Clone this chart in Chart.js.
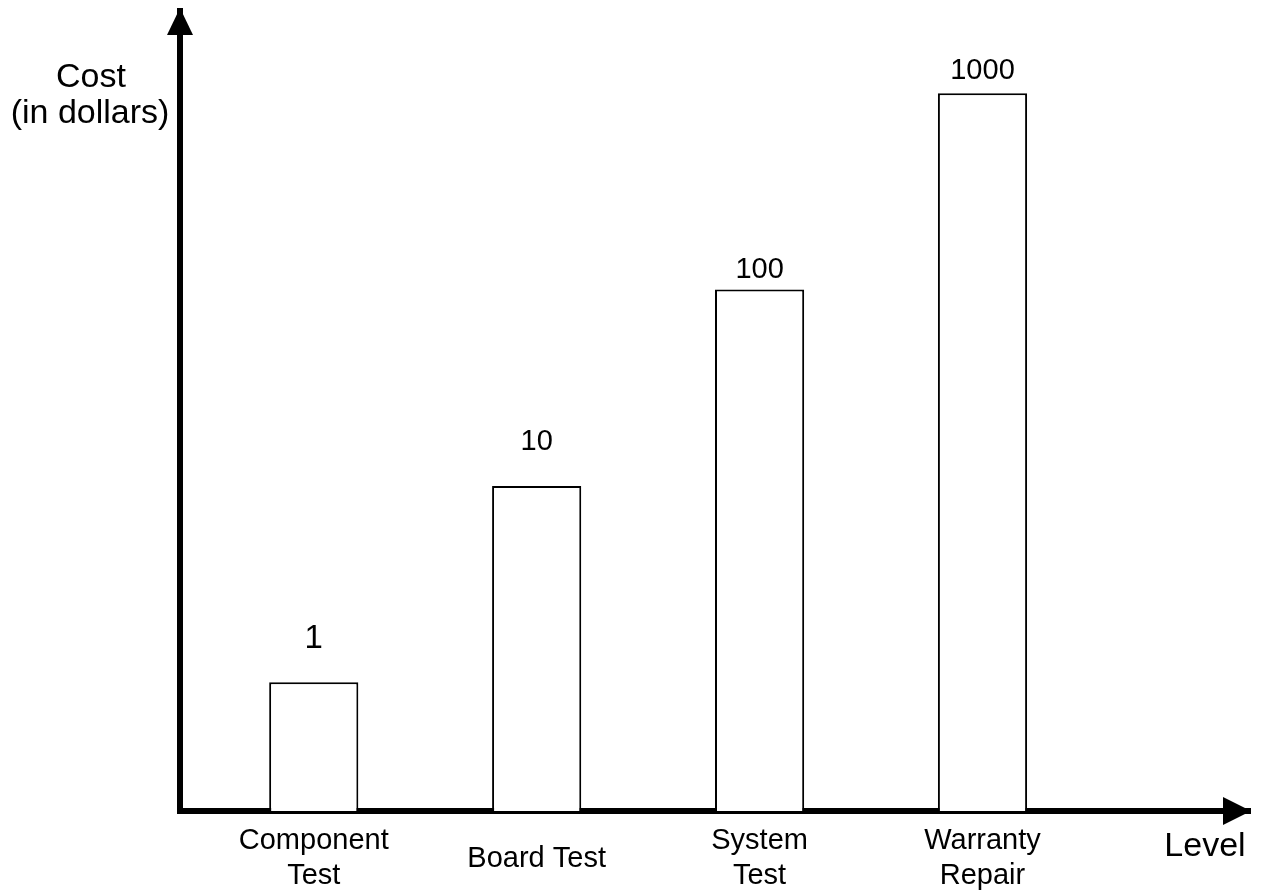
<!DOCTYPE html>
<html>
<head>
<meta charset="utf-8">
<script src="https://cdn.jsdelivr.net/npm/chart.js@4/dist/chart.umd.min.js"></script>
<style>
  html, body { margin: 0; padding: 0; background: #ffffff; }
  #wrap { position: relative; width: 1265px; height: 895px; }
  canvas { display: block; }
</style>
</head>
<body>
<div id="wrap"><canvas id="chart" width="1265" height="895"></canvas></div>
<script>
// ---- data ----
const categories = ['Component Test', 'Board Test', 'System Test', 'Warranty Repair'];
const tickLabels = [['Component', 'Test'], ['Board Test'], ['System', 'Test'], ['Warranty', 'Repair']];
const costValues = [1, 10, 100, 1000];
const yAxisTitle = ['Cost', '(in dollars)'];
const xAxisTitle = 'Level';

// ---- styling constants ----
const FONT = '"Liberation Sans", Arial, Helvetica, sans-serif';
const valueLabelSizes = [33, 29, 29, 29];
const valueLabelGaps = [34, 36, 12, 14];

Chart.defaults.font.family = FONT;
Chart.defaults.color = '#000';

const points = costValues.map((v, i) => ({ x: i + 1, y: v }));

const decorPlugin = {
  id: 'decor',
  afterDatasetsDraw(chart) {
    const ctx = chart.ctx;
    const meta = chart.getDatasetMeta(0);
    ctx.save();
    ctx.fillStyle = '#000';
    ctx.textAlign = 'center';
    ctx.textBaseline = 'alphabetic';
    meta.data.forEach((bar, i) => {
      ctx.font = valueLabelSizes[i] + 'px ' + FONT;
      ctx.fillText(String(costValues[i]), bar.x, bar.y - valueLabelGaps[i]);
    });
    ctx.restore();
  },
  afterDraw(chart) {
    const ctx = chart.ctx;
    const a = chart.chartArea;
    ctx.save();
    ctx.fillStyle = '#000';
    // y arrow head (tip covers border overhang)
    ctx.beginPath();
    ctx.moveTo(a.left, a.top - 3);
    ctx.lineTo(a.left - 13, a.top + 24);
    ctx.lineTo(a.left + 13, a.top + 24);
    ctx.closePath();
    ctx.fill();
    // x arrow head
    ctx.beginPath();
    ctx.moveTo(a.right + 1, a.bottom);
    ctx.lineTo(a.right - 27, a.bottom - 14);
    ctx.lineTo(a.right - 27, a.bottom + 14);
    ctx.closePath();
    ctx.fill();
    // axis titles
    ctx.textAlign = 'center';
    ctx.textBaseline = 'alphabetic';
    ctx.font = '34px ' + FONT;
    ctx.fillText(yAxisTitle[0], 91, 87);
    ctx.fillText(yAxisTitle[1], 90, 123);
    ctx.fillText(xAxisTitle, 1205, 856);
    ctx.restore();
  }
};

new Chart(document.getElementById('chart'), {
  type: 'bar',
  data: {
    labels: categories,
    datasets: [{
      label: 'Cost (in dollars)',
      data: points,
      backgroundColor: '#ffffff',
      borderColor: '#000000',
      borderWidth: 2,
      barPercentage: 0.4,
      categoryPercentage: 1
    }]
  },
  options: {
    responsive: false,
    animation: false,
    events: [],
    layout: { padding: { left: 180, right: 15, top: 11, bottom: 0 } },
    plugins: {
      legend: { display: false },
      tooltip: { enabled: false },
      title: { display: false }
    },
    scales: {
      x: {
        type: 'linear',
        min: 0.4,
        max: 5.2,
        offset: false,
        grid: { display: false, drawTicks: false },
        border: { display: true, color: '#000', width: 6 },
        ticks: {
          stepSize: 1,
          includeBounds: false,
          autoSkip: false,
          maxRotation: 0,
          minRotation: 0,
          crossAlign: 'center',
          padding: 30,
          color: '#000',
          font: { family: FONT, size: 29, lineHeight: 1.22 },
          callback: (v) => (Number.isInteger(v) && tickLabels[v - 1]) ? tickLabels[v - 1] : ''
        },
        afterFit: (s) => { s.height = 84; }
      },
      y: {
        type: 'logarithmic',
        min: 0.221,
        max: 2625,
        grid: { display: false, drawTicks: false },
        border: { display: true, color: '#000', width: 6 },
        ticks: { display: false },
        afterFit: (s) => { s.width = 0; }
      }
    }
  },
  plugins: [decorPlugin]
});
</script>
</body>
</html>
